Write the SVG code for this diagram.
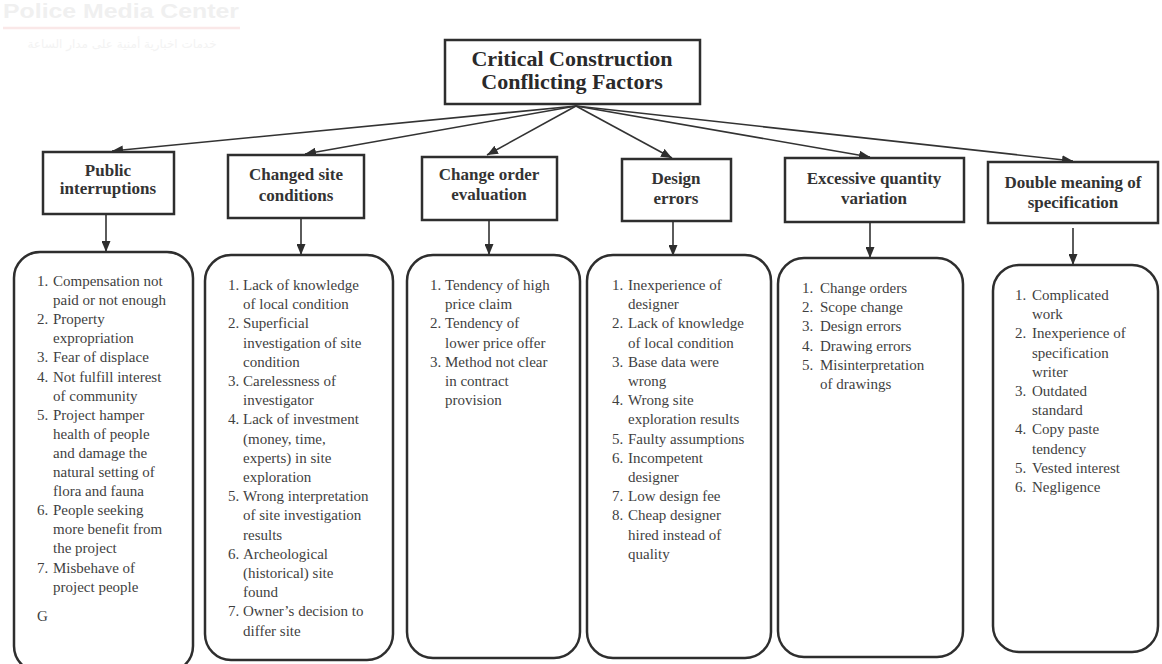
<svg xmlns="http://www.w3.org/2000/svg" width="1162" height="664" viewBox="0 0 1162 664">
  <style>
    .hdr { fill: #fff; stroke: #2e2e2e; stroke-width: 2.5; }
    .lst { fill: #fff; stroke: #2e2e2e; stroke-width: 2.5; }
    .title { font-family: "Liberation Serif", "Times New Roman", serif; font-weight: bold; font-size: 22px; fill: #2a2a2a; text-anchor: middle; }
    .head { font-family: "Liberation Serif", "Times New Roman", serif; font-weight: bold; font-size: 17px; fill: #333; text-anchor: middle; }
    .item { font-family: "Liberation Serif", "Times New Roman", serif; font-size: 15px; fill: #3f3f3f; }
    .wire { fill: none; stroke: #333; stroke-width: 1.6; marker-end: url(#tip); }
    .wm { font-family: "Liberation Sans", Arial, sans-serif; font-weight: bold; fill: #f0f0f0; }
    .wmar { font-family: "DejaVu Sans", "Noto Sans", sans-serif; fill: #f3f3f3; }
  </style>
  <defs>
    <marker id="tip" markerUnits="userSpaceOnUse" markerWidth="11" markerHeight="9" refX="11" refY="4.5" orient="auto">
      <path d="M0,0 L11,4.5 L0,9 z" fill="#2e2e2e"/>
    </marker>
  </defs>

  <rect width="1162" height="664" fill="#fff"/>

  <!-- faint watermark, top left -->
  <g id="watermark">
    <text class="wm" x="3" y="18" font-size="21" textLength="236" lengthAdjust="spacingAndGlyphs">Police Media Center</text>
    <line x1="3" y1="28" x2="240" y2="28" stroke="#fae8e8" stroke-width="2.5"/>
    <text class="wmar" x="122" y="48" font-size="12" text-anchor="middle">خدمات اخبارية أمنية على مدار الساعة</text>
  </g>

  <!-- connectors -->
  <g id="connectors">
    <line class="wire" x1="576" y1="106" x2="112" y2="151"/>
    <line class="wire" x1="576" y1="106" x2="305" y2="154"/>
    <line class="wire" x1="576" y1="106" x2="487" y2="155"/>
    <line class="wire" x1="576" y1="106" x2="672" y2="158"/>
    <line class="wire" x1="576" y1="106" x2="870" y2="157"/>
    <line class="wire" x1="576" y1="106" x2="1073" y2="161"/>
    <line class="wire" x1="106" y1="214" x2="106" y2="252"/>
    <line class="wire" x1="301" y1="218" x2="301" y2="255"/>
    <line class="wire" x1="489" y1="220" x2="489" y2="255"/>
    <line class="wire" x1="673" y1="221" x2="673" y2="256"/>
    <line class="wire" x1="870" y1="222" x2="870" y2="258"/>
    <line class="wire" x1="1073" y1="228" x2="1073" y2="265"/>
  </g>

  <!-- root -->
  <g id="root">
    <rect class="hdr" x="445" y="40" width="255" height="64"/>
    <text class="title" x="572" y="66">Critical Construction</text>
    <text class="title" x="572" y="89">Conflicting Factors</text>
  </g>

  <!-- category headers -->
  <g id="cat-public">
    <rect class="hdr" x="43" y="152" width="131" height="62"/>
    <text class="head" x="108" y="176">Public</text>
    <text class="head" x="108" y="194">interruptions</text>
  </g>
  <g id="cat-site">
    <rect class="hdr" x="228" y="155" width="136" height="63"/>
    <text class="head" x="296" y="180">Changed site</text>
    <text class="head" x="296" y="201">conditions</text>
  </g>
  <g id="cat-change">
    <rect class="hdr" x="422" y="157" width="135" height="63"/>
    <text class="head" x="489" y="180">Change order</text>
    <text class="head" x="489" y="200">evaluation</text>
  </g>
  <g id="cat-design">
    <rect class="hdr" x="622" y="159" width="109" height="62"/>
    <text class="head" x="676" y="184">Design</text>
    <text class="head" x="676" y="204">errors</text>
  </g>
  <g id="cat-quantity">
    <rect class="hdr" x="785" y="158" width="179" height="64"/>
    <text class="head" x="874" y="184">Excessive quantity</text>
    <text class="head" x="874" y="204">variation</text>
  </g>
  <g id="cat-spec">
    <rect class="hdr" x="988" y="162" width="170" height="61"/>
    <text class="head" x="1073" y="188">Double meaning of</text>
    <text class="head" x="1073" y="208">specification</text>
  </g>

  <!-- factor lists -->
  <g id="list-public">
    <rect class="lst" x="14" y="252" width="179" height="420" rx="26"/>
    <text class="item">
      <tspan x="37" y="286">1.</tspan><tspan x="53">Compensation not</tspan>
      <tspan x="53" y="305.1">paid or not enough</tspan>
      <tspan x="37" y="324.2">2.</tspan><tspan x="53">Property</tspan>
      <tspan x="53" y="343.3">expropriation</tspan>
      <tspan x="37" y="362.4">3.</tspan><tspan x="53">Fear of displace</tspan>
      <tspan x="37" y="381.5">4.</tspan><tspan x="53">Not fulfill interest</tspan>
      <tspan x="53" y="400.6">of community</tspan>
      <tspan x="37" y="419.7">5.</tspan><tspan x="53">Project hamper</tspan>
      <tspan x="53" y="438.8">health of people</tspan>
      <tspan x="53" y="457.9">and damage the</tspan>
      <tspan x="53" y="477">natural setting of</tspan>
      <tspan x="53" y="496.1">flora and fauna</tspan>
      <tspan x="37" y="515.2">6.</tspan><tspan x="53">People seeking</tspan>
      <tspan x="53" y="534.3">more benefit from</tspan>
      <tspan x="53" y="553.4">the project</tspan>
      <tspan x="37" y="572.5">7.</tspan><tspan x="53">Misbehave of</tspan>
      <tspan x="53" y="591.6">project people</tspan>
      <tspan x="37" y="621">G</tspan>
    </text>
  </g>

  <g id="list-site">
    <rect class="lst" x="205" y="255" width="188" height="405" rx="26"/>
    <text class="item">
      <tspan x="228" y="290">1.</tspan><tspan x="243">Lack of knowledge</tspan>
      <tspan x="243" y="309.2">of local condition</tspan>
      <tspan x="228" y="328.4">2.</tspan><tspan x="243">Superficial</tspan>
      <tspan x="243" y="347.6">investigation of site</tspan>
      <tspan x="243" y="366.8">condition</tspan>
      <tspan x="228" y="386">3.</tspan><tspan x="243">Carelessness of</tspan>
      <tspan x="243" y="405.2">investigator</tspan>
      <tspan x="228" y="424.4">4.</tspan><tspan x="243">Lack of investment</tspan>
      <tspan x="243" y="443.6">(money, time,</tspan>
      <tspan x="243" y="462.8">experts) in site</tspan>
      <tspan x="243" y="482">exploration</tspan>
      <tspan x="228" y="501.2">5.</tspan><tspan x="243">Wrong interpretation</tspan>
      <tspan x="243" y="520.4">of site investigation</tspan>
      <tspan x="243" y="539.6">results</tspan>
      <tspan x="228" y="558.8">6.</tspan><tspan x="243">Archeological</tspan>
      <tspan x="243" y="578">(historical) site</tspan>
      <tspan x="243" y="597.2">found</tspan>
      <tspan x="228" y="616.4">7.</tspan><tspan x="243">Owner’s decision to</tspan>
      <tspan x="243" y="635.6">differ site</tspan>
    </text>
  </g>

  <g id="list-change">
    <rect class="lst" x="407" y="255" width="173" height="403" rx="26"/>
    <text class="item">
      <tspan x="430" y="290">1.</tspan><tspan x="445">Tendency of high</tspan>
      <tspan x="445" y="309.2">price claim</tspan>
      <tspan x="430" y="328.4">2.</tspan><tspan x="445">Tendency of</tspan>
      <tspan x="445" y="347.6">lower price offer</tspan>
      <tspan x="430" y="366.8">3.</tspan><tspan x="445">Method not clear</tspan>
      <tspan x="445" y="386">in contract</tspan>
      <tspan x="445" y="405.2">provision</tspan>
    </text>
  </g>

  <g id="list-design">
    <rect class="lst" x="587" y="255" width="184" height="403" rx="26"/>
    <text class="item">
      <tspan x="612" y="290">1.</tspan><tspan x="628">Inexperience of</tspan>
      <tspan x="628" y="309.2">designer</tspan>
      <tspan x="612" y="328.4">2.</tspan><tspan x="628">Lack of knowledge</tspan>
      <tspan x="628" y="347.6">of local condition</tspan>
      <tspan x="612" y="366.8">3.</tspan><tspan x="628">Base data were</tspan>
      <tspan x="628" y="386">wrong</tspan>
      <tspan x="612" y="405.2">4.</tspan><tspan x="628">Wrong site</tspan>
      <tspan x="628" y="424.4">exploration results</tspan>
      <tspan x="612" y="443.6">5.</tspan><tspan x="628">Faulty assumptions</tspan>
      <tspan x="612" y="462.8">6.</tspan><tspan x="628">Incompetent</tspan>
      <tspan x="628" y="482">designer</tspan>
      <tspan x="612" y="501.2">7.</tspan><tspan x="628">Low design fee</tspan>
      <tspan x="612" y="520.4">8.</tspan><tspan x="628">Cheap designer</tspan>
      <tspan x="628" y="539.6">hired instead of</tspan>
      <tspan x="628" y="558.8">quality</tspan>
    </text>
  </g>

  <g id="list-quantity">
    <rect class="lst" x="778" y="258" width="185" height="399" rx="26"/>
    <text class="item">
      <tspan x="802" y="293">1.</tspan><tspan x="820">Change orders</tspan>
      <tspan x="802" y="312.2">2.</tspan><tspan x="820">Scope change</tspan>
      <tspan x="802" y="331.4">3.</tspan><tspan x="820">Design errors</tspan>
      <tspan x="802" y="350.6">4.</tspan><tspan x="820">Drawing errors</tspan>
      <tspan x="802" y="369.8">5.</tspan><tspan x="820">Misinterpretation</tspan>
      <tspan x="820" y="389">of drawings</tspan>
    </text>
  </g>

  <g id="list-spec">
    <rect class="lst" x="993" y="265" width="165" height="387" rx="26"/>
    <text class="item">
      <tspan x="1015" y="300">1.</tspan><tspan x="1032">Complicated</tspan>
      <tspan x="1032" y="319.2">work</tspan>
      <tspan x="1015" y="338.4">2.</tspan><tspan x="1032">Inexperience of</tspan>
      <tspan x="1032" y="357.6">specification</tspan>
      <tspan x="1032" y="376.8">writer</tspan>
      <tspan x="1015" y="396">3.</tspan><tspan x="1032">Outdated</tspan>
      <tspan x="1032" y="415.2">standard</tspan>
      <tspan x="1015" y="434.4">4.</tspan><tspan x="1032">Copy paste</tspan>
      <tspan x="1032" y="453.6">tendency</tspan>
      <tspan x="1015" y="472.8">5.</tspan><tspan x="1032">Vested interest</tspan>
      <tspan x="1015" y="492">6.</tspan><tspan x="1032">Negligence</tspan>
    </text>
  </g>
</svg>
